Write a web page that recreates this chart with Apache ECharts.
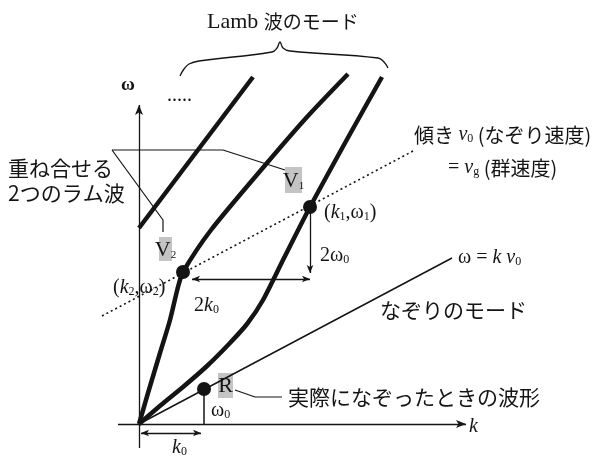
<!DOCTYPE html>
<html><head><meta charset="utf-8">
<script src="https://cdn.jsdelivr.net/npm/echarts@6/dist/echarts.min.js"></script>
<style>html,body{margin:0;background:#fff}#c{width:607px;height:464px}</style>
</head><body><div id="c"></div>
<script>
// Lamb wave dispersion branches (k, ω)
const lambMode1 = [[0,196],[114,347]];
const lambMode2 = [[0,0],[9,31],[21,71],[31,104],[39,137],[44,152],[72,194],[128,261],[168,307],[209,350]];
const lambMode3 = [[0,0],[22,19],[44,37],[68,58],[90,80],[108,100],[124,124],[145,166],[171,217],[211,290],[243,347]];
// tracing mode ω = k·v0
const tracingLine = [[0,0],[313,166]];
// line of slope v0 (= group velocity) touching the two excited modes
const groupLine = [[-37,108],[276,274]];
const modePoints = [[44,152],[171,217]];   // (k2,ω2), (k1,ω1)
const tracePoint = [[65,35]];              // (k0, ω0)
const traceDrop = [[65,35],[65,0]];
// annotation guides
const brace = [[41,348],[45,355],[50,360],[60,363],[133,372],[138,376],[141,382],[144,376],[151,373],[239,366],[245,362],[249,356]];
const leaderV1 = [[-27,274],[84,274],[146,254]];
const leaderV2 = [[-27,274],[24,204],[24,192]];
const leaderR = [[96,34],[116,27],[143,27]];
// axes and dimension arrows: [start, end]
const kAxis = [[-21,0],[327,0]];
const wAxis = [[0,-24],[0,319]];
const k0Span = [[2,-9],[62,-9]];
const twoK0Span = [[53,145],[171,145]];
const twoW0Span = [[171,217],[171,151]];

const INK = '#141414';
const SERIF = "'Liberation Serif','Noto Sans CJK JP'";
const CJK = "'Noto Sans CJK JP'";

function curve(data, width, extra) {
  return Object.assign({
    type: 'line', data: data, showSymbol: false, silent: true, animation: false,
    lineStyle: { color: INK, width: width }
  }, extra || {});
}
function arrowPair(pts, startSym, endSym, size) {
  return [
    { coord: pts[0], symbol: startSym, symbolSize: size },
    { coord: pts[1], symbol: endSym, symbolSize: size }
  ];
}

const rich = {
  s: { fontFamily: SERIF, fontSize: 20, fill: INK },
  L: { fontFamily: SERIF, fontSize: 22, fill: INK },
  w: { fontFamily: SERIF, fontSize: 19, fontWeight: 'bold', fill: INK },
  i: { fontFamily: SERIF, fontSize: 20, fontStyle: 'italic', fill: INK },
  sub: { fontFamily: SERIF, fontSize: 12, fill: INK, verticalAlign: 'bottom', lineHeight: 15 },
  j: { fontFamily: CJK, fontSize: 19, fill: INK },
  jm: { fontFamily: CJK, fontSize: 20, fill: INK },
  jb: { fontFamily: CJK, fontSize: 21, fill: INK }
};
function txt(x, y, text, align) {
  return { type: 'text', x: x, y: y, silent: true, z: 10,
    style: { text: text, rich: rich, align: align || 'left', verticalAlign: 'middle' } };
}
function tag(x, y, w, h, letter, sub) {
  return { type: 'group', silent: true, z: 9, children: [
    { type: 'rect', shape: { x: x, y: y, width: w, height: h }, style: { fill: '#c4c4c4' } },
    { type: 'text', x: x + w / 2, y: y + h / 2 + 1, style: {
      text: '{L|' + letter + '}' + (sub ? '{S|' + sub + '}' : ''),
      rich: { L: { fontFamily: SERIF, fontSize: 22, fill: INK },
              S: { fontFamily: SERIF, fontSize: 11, fill: INK, verticalAlign: 'bottom', lineHeight: 13 } },
      align: 'center', verticalAlign: 'middle' } }
  ]};
}

const chart = echarts.init(document.getElementById('c'));
chart.setOption({
  animation: false,
  grid: { left: 0, right: 0, top: 0, bottom: 0 },
  xAxis: { type: 'value', min: -139, max: 468, show: false },
  yAxis: { type: 'value', min: -40, max: 424, show: false },
  series: [
    curve(lambMode1, 4.5),
    curve(lambMode2, 4.5, { smooth: 0.25 }),
    curve(lambMode3, 4.5, { smooth: 0.25 }),
    curve(tracingLine, 1.5),
    curve(groupLine, 1.6, { lineStyle: { color: INK, width: 1.6, type: [2, 3] } }),
    curve(traceDrop, 1.5),
    curve(brace, 1.3, { smooth: 0.45 }),
    curve(leaderV1, 1.2),
    curve(leaderV2, 1.2),
    curve(leaderR, 1.2),
    { type: 'scatter', data: modePoints.concat(tracePoint), symbolSize: 14, silent: true,
      itemStyle: { color: INK, opacity: 1 }, z: 5 },
    { type: 'line', data: [], silent: true,
      markLine: {
        silent: true, animation: false, label: { show: false },
        lineStyle: { color: INK, width: 1.3, type: 'solid' },
        data: [
          arrowPair(kAxis, 'none', 'arrow', [6, 10]),
          arrowPair(wAxis, 'none', 'arrow', [6, 10]),
          arrowPair(k0Span, 'arrow', 'arrow', [5, 8]),
          arrowPair(twoK0Span, 'arrow', 'arrow', [5, 8]),
          arrowPair(twoW0Span, 'none', 'arrow', [5, 8])
        ]
      } }
  ],
  graphic: [
    txt(207, 22, '{L|Lamb }{j|波のモード}'),
    txt(128, 85, '{w|ω}', 'center'),
    txt(167, 96, '{s|.....}'),
    txt(8, 168, '{jb|重ね合せる}'),
    txt(8, 193, '{jb|2つのラム波}'),
    txt(414, 135, '{jm|傾き }{i|ν}{sub|0}{jm| (なぞり速度)}'),
    txt(448, 168, '{s|= }{i|ν}{sub|g}{jm| (群速度)}'),
    txt(324, 213, '{s|(}{i|k}{sub|1}{s|,ω}{sub|1}{s|)}'),
    txt(113, 288, '{s|(}{i|k}{sub|2}{s|,ω}{sub|2}{s|)}'),
    txt(320, 256, '{s|2ω}{sub|0}'),
    txt(458, 258, '{s|ω = }{i|k ν}{sub|0}'),
    txt(194, 306, '{s|2}{i|k}{sub|0}'),
    txt(172, 448, '{i|k}{sub|0}'),
    txt(211, 411, '{s|ω}{sub|0}'),
    txt(469, 427, '{i|k}'),
    txt(380, 310, '{jb|なぞりのモード}'),
    txt(288, 397, '{jb|実際になぞったときの波形}'),
    tag(285, 167, 17, 26, 'V', '1'),
    tag(159, 237, 13, 24, 'V', '2'),
    tag(218, 373, 15, 25, 'R', '')
  ]
});
</script>
</body></html>
